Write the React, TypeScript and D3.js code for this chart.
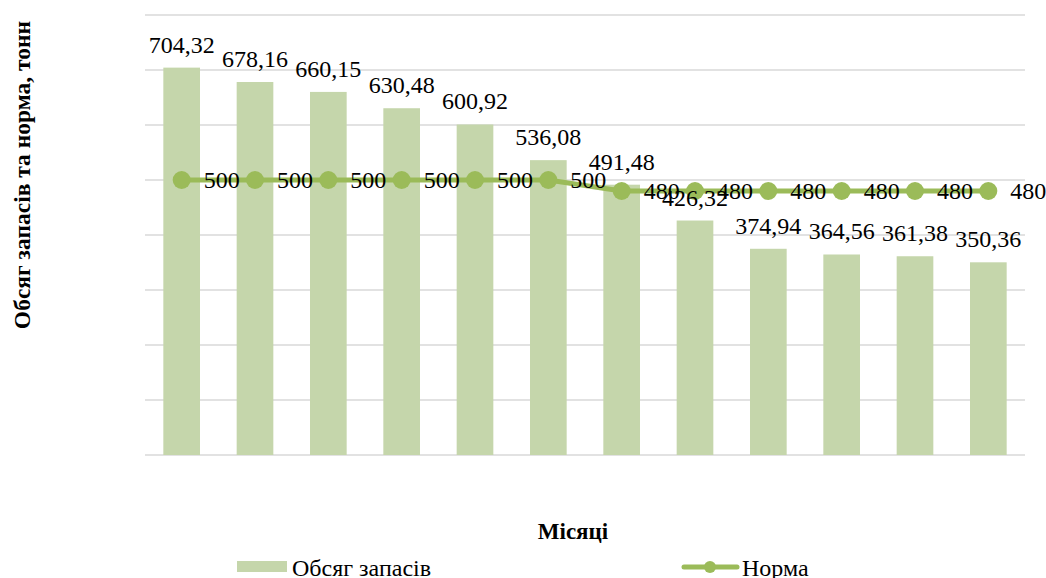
import React from 'react'
import * as d3 from 'd3'

// місяці (підписів на осі немає)
const months = ['1', '2', '3', '4', '5', '6', '7', '8', '9', '10', '11', '12']
const stock = [704.32, 678.16, 660.15, 630.48, 600.92, 536.08, 491.48, 426.32, 374.94, 364.56, 361.38, 350.36]
const norm = [500, 500, 500, 500, 500, 500, 480, 480, 480, 480, 480, 480]
const yTicks = [0, 100, 200, 300, 400, 500, 600, 700, 800]

const W = 1046
const H = 578
const plot = { left: 145, right: 1025, top: 15, bottom: 455 }
const barColor = '#c5d6ab'
const lineColor = '#9bbb59'
const serif = '"Liberation Serif", Tinos, "Times New Roman", Times, serif'

const fmt = (v: number) => (Number.isInteger(v) ? String(v) : v.toFixed(2).replace('.', ','))

// звичайний текст підписів
const Label: React.FC<{ x: number; y: number; anchor?: string; dy?: string; size?: number; bold?: boolean; children: React.ReactNode }> = ({
    x,
    y,
    anchor = 'start',
    dy,
    size = 24,
    bold = false,
    children,
}) => (
    <text
        x={x}
        y={y}
        dy={dy}
        textAnchor={anchor}
        fontFamily={serif}
        fontSize={size}
        fontWeight={bold ? 'bold' : 'normal'}
        style={{ fontFamily: serif, fontWeight: bold ? 700 : 400 }}
        fill="#000"
    >
        {children}
    </text>
)

const App: React.FC = () => {
    const x = d3
        .scaleBand<string>()
        .domain(months)
        .range([plot.left, plot.right])
        .paddingInner(0.5)
        .paddingOuter(0.25)
    const y = d3.scaleLinear().domain([0, 800]).range([plot.bottom, plot.top])
    const cx = (i: number) => (x(months[i]) as number) + x.bandwidth() / 2

    const line = d3
        .line<number>()
        .x((_, i) => cx(i))
        .y((d) => y(d))

    return (
        <svg width={W} height={H} style={{ position: 'absolute', left: 0, top: 0, background: '#fff' }}>
            {/* сітка */}
            {yTicks.map((t) => (
                <line
                    key={t}
                    x1={plot.left}
                    x2={plot.right}
                    y1={y(t)}
                    y2={y(t)}
                    stroke="#d9d9d9"
                    strokeWidth={1.5}
                />
            ))}

            {/* стовпці */}
            {stock.map((v, i) => (
                <rect
                    key={i}
                    x={x(months[i])}
                    y={y(v)}
                    width={x.bandwidth()}
                    height={y(0) - y(v)}
                    fill={barColor}
                />
            ))}

            {/* лінія норми */}
            <path d={line(norm) || ''} fill="none" stroke={lineColor} strokeWidth={5} />
            {norm.map((v, i) => (
                <circle key={i} cx={cx(i)} cy={y(v)} r={9} fill={lineColor} />
            ))}

            {/* підписи стовпців */}
            {stock.map((v, i) => (
                <Label key={i} x={cx(i)} y={y(v) - 15} anchor="middle">
                    {fmt(v)}
                </Label>
            ))}

            {/* підписи норми */}
            {norm.map((v, i) => (
                <Label key={i} x={cx(i) + 22} y={y(v)} dy="0.35em">
                    {fmt(v)}
                </Label>
            ))}

            {/* назви осей */}
            <Label x={573} y={539} anchor="middle" size={23} bold>
                Місяці
            </Label>
            <g transform="translate(30,175) rotate(-90)">
                <Label x={0} y={0} anchor="middle" size={23.5} bold>
                    Обсяг запасів та норма, тонн
                </Label>
            </g>

            {/* легенда */}
            <rect x={237} y={561} width={50} height={11} fill={barColor} />
            <Label x={292} y={576}>
                Обсяг запасів
            </Label>
            <line x1={684} x2={737} y1={567} y2={567} stroke={lineColor} strokeWidth={5} strokeLinecap="round" />
            <circle cx={710} cy={567} r={6} fill={lineColor} />
            <Label x={742} y={576}>
                Норма
            </Label>
        </svg>
    )
}

export default App
